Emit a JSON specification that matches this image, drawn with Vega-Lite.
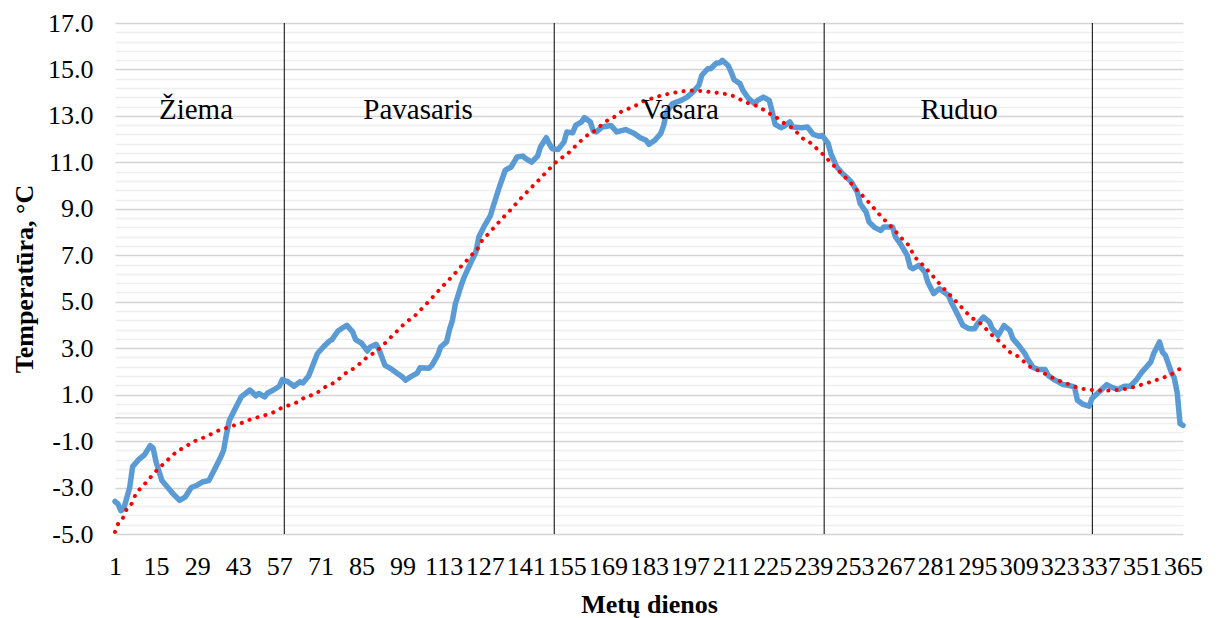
{
  "$schema": "https://vega.github.io/schema/vega-lite/v6.json",
  "width": 1068,
  "height": 511,
  "autosize": "none",
  "padding": {"left": 115, "top": 23, "right": 37, "bottom": 84},
  "background": "white",
  "config": {
    "view": {"stroke": null},
    "axisX": {
      "labelOverlap": false, "labelBound": false, "labelFlush": false,
      "ticks": false, "domain": false, "grid": false,
      "labelFont": "Liberation Serif", "labelFontSize": 26, "labelColor": "#000000", "labelPadding": 19,
      "titleFont": "Liberation Serif", "titleFontSize": 26, "titleFontWeight": "bold", "titleColor": "#000000", "titlePadding": 12
    },
    "axisY": {
      "labelOverlap": false, "labelBound": false, "labelFlush": false,
      "ticks": false, "domain": false, "grid": true, "gridWidth": 1.3,
      "labelFont": "Liberation Serif", "labelFontSize": 26, "labelColor": "#000000", "labelPadding": 22,
      "titleFont": "Liberation Serif", "titleFontSize": 26, "titleFontWeight": "bold", "titleColor": "#000000", "titlePadding": 10
    }
  },
  "datasets": {
    "temp": [
      {"day":1,"t":-3.6},{"day":2,"t":-3.7},{"day":3,"t":-4.0},{"day":4,"t":-3.9},{"day":6,"t":-3.0},{"day":7,"t":-2.1},{"day":9,"t":-1.8},{"day":11,"t":-1.6},{"day":13,"t":-1.2},{"day":14,"t":-1.3},{"day":15,"t":-1.9},{"day":17,"t":-2.7},{"day":19,"t":-3.0},{"day":21,"t":-3.3},{"day":23,"t":-3.55},{"day":25,"t":-3.4},{"day":27,"t":-3.0},{"day":29,"t":-2.9},{"day":31,"t":-2.75},{"day":33,"t":-2.7},{"day":35,"t":-2.2},{"day":37,"t":-1.7},{"day":38,"t":-1.4},{"day":39,"t":-0.7},{"day":40,"t":-0.1},{"day":42,"t":0.4},{"day":44,"t":0.9},{"day":45,"t":1.0},{"day":47,"t":1.2},{"day":49,"t":0.95},{"day":50,"t":1.05},{"day":52,"t":0.9},{"day":53,"t":1.07},{"day":55,"t":1.2},{"day":57,"t":1.36},{"day":58,"t":1.65},{"day":60,"t":1.55},{"day":62,"t":1.36},{"day":64,"t":1.55},{"day":65,"t":1.5},{"day":67,"t":1.8},{"day":69,"t":2.45},{"day":70,"t":2.77},{"day":72,"t":3.05},{"day":74,"t":3.3},{"day":75,"t":3.38},{"day":77,"t":3.74},{"day":79,"t":3.91},{"day":80,"t":3.98},{"day":82,"t":3.7},{"day":83,"t":3.37},{"day":85,"t":3.22},{"day":87,"t":2.88},{"day":88,"t":3.05},{"day":90,"t":3.17},{"day":91,"t":2.94},{"day":93,"t":2.26},{"day":95,"t":2.12},{"day":97,"t":1.93},{"day":99,"t":1.76},{"day":100,"t":1.62},{"day":102,"t":1.79},{"day":104,"t":1.93},{"day":105,"t":2.16},{"day":108,"t":2.14},{"day":109,"t":2.26},{"day":111,"t":2.7},{"day":112,"t":3.05},{"day":114,"t":3.27},{"day":115,"t":3.8},{"day":116,"t":4.2},{"day":117,"t":4.9},{"day":119,"t":5.71},{"day":120,"t":6.06},{"day":122,"t":6.61},{"day":124,"t":7.14},{"day":125,"t":7.79},{"day":127,"t":8.29},{"day":129,"t":8.72},{"day":130,"t":9.15},{"day":132,"t":9.94},{"day":134,"t":10.66},{"day":136,"t":10.8},{"day":138,"t":11.23},{"day":140,"t":11.27},{"day":141,"t":11.16},{"day":143,"t":11.01},{"day":145,"t":11.26},{"day":146,"t":11.66},{"day":148,"t":12.06},{"day":149,"t":11.8},{"day":150,"t":11.59},{"day":152,"t":11.55},{"day":154,"t":11.87},{"day":155,"t":12.31},{"day":157,"t":12.27},{"day":158,"t":12.59},{"day":160,"t":12.74},{"day":161,"t":12.93},{"day":163,"t":12.74},{"day":164,"t":12.35},{"day":165,"t":12.31},{"day":167,"t":12.52},{"day":170,"t":12.59},{"day":172,"t":12.31},{"day":175,"t":12.41},{"day":178,"t":12.24},{"day":180,"t":12.06},{"day":182,"t":11.95},{"day":183,"t":11.78},{"day":185,"t":11.95},{"day":187,"t":12.24},{"day":188,"t":12.59},{"day":189,"t":13.17},{"day":191,"t":13.53},{"day":194,"t":13.67},{"day":196,"t":13.81},{"day":198,"t":14.03},{"day":200,"t":14.32},{"day":201,"t":14.75},{"day":203,"t":15.03},{"day":204,"t":15.03},{"day":206,"t":15.28},{"day":207,"t":15.28},{"day":208,"t":15.39},{"day":210,"t":15.17},{"day":211,"t":14.89},{"day":212,"t":14.56},{"day":214,"t":14.39},{"day":215,"t":14.1},{"day":217,"t":13.74},{"day":219,"t":13.53},{"day":220,"t":13.67},{"day":222,"t":13.81},{"day":224,"t":13.67},{"day":225,"t":13.17},{"day":226,"t":12.64},{"day":228,"t":12.49},{"day":229,"t":12.55},{"day":231,"t":12.74},{"day":232,"t":12.52},{"day":235,"t":12.49},{"day":237,"t":12.52},{"day":239,"t":12.2},{"day":241,"t":12.12},{"day":242,"t":12.16},{"day":244,"t":11.83},{"day":245,"t":11.38},{"day":247,"t":10.8},{"day":249,"t":10.51},{"day":250,"t":10.4},{"day":252,"t":10.15},{"day":254,"t":9.72},{"day":255,"t":9.22},{"day":257,"t":8.86},{"day":258,"t":8.43},{"day":260,"t":8.19},{"day":262,"t":8.07},{"day":263,"t":8.22},{"day":266,"t":8.22},{"day":267,"t":7.79},{"day":269,"t":7.43},{"day":271,"t":7.0},{"day":272,"t":6.49},{"day":273,"t":6.42},{"day":275,"t":6.57},{"day":277,"t":6.28},{"day":278,"t":5.85},{"day":280,"t":5.35},{"day":282,"t":5.56},{"day":285,"t":5.28},{"day":286,"t":4.99},{"day":288,"t":4.49},{"day":290,"t":3.98},{"day":292,"t":3.84},{"day":294,"t":3.84},{"day":295,"t":4.06},{"day":297,"t":4.34},{"day":299,"t":4.13},{"day":300,"t":3.84},{"day":302,"t":3.55},{"day":304,"t":3.97},{"day":306,"t":3.77},{"day":307,"t":3.41},{"day":309,"t":3.12},{"day":311,"t":2.79},{"day":312,"t":2.55},{"day":314,"t":2.16},{"day":316,"t":2.08},{"day":318,"t":2.08},{"day":319,"t":1.83},{"day":321,"t":1.65},{"day":322,"t":1.59},{"day":324,"t":1.44},{"day":326,"t":1.4},{"day":328,"t":1.33},{"day":329,"t":0.76},{"day":331,"t":0.58},{"day":333,"t":0.5},{"day":334,"t":0.83},{"day":337,"t":1.19},{"day":339,"t":1.43},{"day":341,"t":1.3},{"day":343,"t":1.22},{"day":345,"t":1.36},{"day":347,"t":1.36},{"day":349,"t":1.62},{"day":351,"t":1.97},{"day":354,"t":2.4},{"day":355,"t":2.77},{"day":357,"t":3.27},{"day":358,"t":2.83},{"day":359,"t":2.69},{"day":361,"t":1.97},{"day":362,"t":1.73},{"day":363,"t":1.11},{"day":364,"t":-0.25},{"day":365,"t":-0.32}
    ],
    "trend": [
      {"day":1,"t":-4.91},{"day":2,"t":-4.58},{"day":4,"t":-4.24},{"day":5,"t":-3.92},{"day":7,"t":-3.62},{"day":8,"t":-3.3},{"day":10,"t":-3.0},{"day":12,"t":-2.72},{"day":14,"t":-2.43},{"day":16,"t":-2.16},{"day":18,"t":-1.93},{"day":20,"t":-1.69},{"day":22,"t":-1.46},{"day":25,"t":-1.25},{"day":27,"t":-1.07},{"day":30,"t":-0.91},{"day":33,"t":-0.75},{"day":35,"t":-0.61},{"day":38,"t":-0.48},{"day":41,"t":-0.35},{"day":44,"t":-0.23},{"day":46,"t":-0.12},{"day":49,"t":0.0},{"day":52,"t":0.11},{"day":55,"t":0.24},{"day":57,"t":0.38},{"day":60,"t":0.53},{"day":63,"t":0.67},{"day":65,"t":0.83},{"day":68,"t":0.98},{"day":71,"t":1.17},{"day":73,"t":1.36},{"day":76,"t":1.54},{"day":78,"t":1.75},{"day":80,"t":1.96},{"day":83,"t":2.18},{"day":85,"t":2.4},{"day":87,"t":2.62},{"day":90,"t":2.86},{"day":92,"t":3.09},{"day":94,"t":3.34},{"day":96,"t":3.6},{"day":98,"t":3.84},{"day":100,"t":4.1},{"day":103,"t":4.37},{"day":105,"t":4.63},{"day":107,"t":4.89},{"day":113,"t":5.71},{"day":115,"t":5.97},{"day":117,"t":6.24},{"day":119,"t":6.53},{"day":121,"t":6.79},{"day":123,"t":7.07},{"day":125,"t":7.36},{"day":126,"t":7.61},{"day":128,"t":7.89},{"day":130,"t":8.17},{"day":132,"t":8.45},{"day":134,"t":8.72},{"day":136,"t":8.98},{"day":138,"t":9.27},{"day":140,"t":9.54},{"day":142,"t":9.8},{"day":144,"t":10.06},{"day":146,"t":10.31},{"day":148,"t":10.58},{"day":150,"t":10.84},{"day":152,"t":11.09},{"day":155,"t":11.34},{"day":157,"t":11.59},{"day":159,"t":11.83},{"day":161,"t":12.08},{"day":164,"t":12.31},{"day":166,"t":12.52},{"day":168,"t":12.74},{"day":171,"t":12.94},{"day":173,"t":13.14},{"day":176,"t":13.31},{"day":179,"t":13.48},{"day":181,"t":13.63},{"day":184,"t":13.75},{"day":187,"t":13.87},{"day":190,"t":13.96},{"day":193,"t":14.03},{"day":195,"t":14.07},{"day":198,"t":14.09},{"day":201,"t":14.07},{"day":204,"t":14.03},{"day":207,"t":13.98},{"day":210,"t":13.92},{"day":213,"t":13.79},{"day":215,"t":13.64},{"day":218,"t":13.5},{"day":221,"t":13.36},{"day":223,"t":13.17},{"day":226,"t":12.98},{"day":228,"t":12.77},{"day":231,"t":12.55},{"day":233,"t":12.34},{"day":235,"t":12.07},{"day":238,"t":11.84},{"day":240,"t":11.61},{"day":242,"t":11.38},{"day":244,"t":11.12},{"day":246,"t":10.86},{"day":248,"t":10.6},{"day":250,"t":10.34},{"day":252,"t":10.08},{"day":254,"t":9.79},{"day":256,"t":9.54},{"day":258,"t":9.27},{"day":260,"t":8.98},{"day":262,"t":8.69},{"day":264,"t":8.43},{"day":266,"t":8.17},{"day":268,"t":7.89},{"day":270,"t":7.61},{"day":272,"t":7.33},{"day":273,"t":7.04},{"day":275,"t":6.75},{"day":277,"t":6.49},{"day":279,"t":6.21},{"day":281,"t":5.92},{"day":283,"t":5.63},{"day":285,"t":5.37},{"day":287,"t":5.1},{"day":289,"t":4.83},{"day":291,"t":4.56},{"day":293,"t":4.32},{"day":296,"t":4.06},{"day":298,"t":3.81},{"day":300,"t":3.55},{"day":302,"t":3.34},{"day":304,"t":3.08},{"day":306,"t":2.83},{"day":309,"t":2.62},{"day":311,"t":2.4},{"day":313,"t":2.19},{"day":316,"t":2.02},{"day":319,"t":1.83},{"day":321,"t":1.69},{"day":324,"t":1.54},{"day":327,"t":1.4},{"day":329,"t":1.3},{"day":332,"t":1.23},{"day":335,"t":1.19},{"day":338,"t":1.17},{"day":341,"t":1.19},{"day":344,"t":1.22},{"day":347,"t":1.29},{"day":349,"t":1.36},{"day":352,"t":1.47},{"day":355,"t":1.59},{"day":358,"t":1.72},{"day":361,"t":1.87},{"day":363,"t":2.05},{"day":365,"t":2.15}
    ],
    "bounds": [{"day":58.7},{"day":150.7},{"day":242.7},{"day":334.1}],
    "seasons": [
      {"day":28.6,"t":12.85,"label":"Žiema"},
      {"day":104.3,"t":12.85,"label":"Pavasaris"},
      {"day":193.6,"t":12.85,"label":"Vasara"},
      {"day":288.7,"t":12.85,"label":"Ruduo"}
    ],
    "zero": [{"t":0}]
  },
  "layer": [
    {
      "data": {"name": "zero"},
      "mark": {"type": "rule", "color": "#d0d0d0", "strokeWidth": 1.5},
      "encoding": {
        "y": {
          "field": "t", "type": "quantitative", "title": "Temperatūra, °C",
          "scale": {"domain": [-5, 17], "nice": false, "zero": false},
          "axis": {
            "values": [-5,-4.6,-4.2,-3.8,-3.4,-3.0,-2.6,-2.2,-1.8,-1.4,-1.0,-0.6,-0.2,0.2,0.6,1.0,1.4,1.8,2.2,2.6,3.0,3.4,3.8,4.2,4.6,5.0,5.4,5.8,6.2,6.6,7.0,7.4,7.8,8.2,8.6,9.0,9.4,9.8,10.2,10.6,11.0,11.4,11.8,12.2,12.6,13.0,13.4,13.8,14.2,14.6,15.0,15.4,15.8,16.2,16.6,17.0],
            "labelExpr": "abs((datum.value + 5) / 2 - round((datum.value + 5) / 2)) < 0.01 ? (datum.value < 0 ? '-' : '') + format(abs(datum.value), '.1f') : ''",
            "gridColor": {"condition": {"test": "abs((datum.value + 5) / 2 - round((datum.value + 5) / 2)) < 0.01", "value": "#d4d4d4"}, "value": "#efefef"}
          }
        }
      }
    },
    {
      "data": {"name": "bounds"},
      "mark": {"type": "rule", "color": "#000000", "strokeWidth": 1},
      "encoding": {
        "x": {
          "field": "day", "type": "quantitative", "title": "Metų dienos",
          "scale": {"domain": [1, 365], "nice": false, "zero": false},
          "axis": {"values": [1,15,29,43,57,71,85,99,113,127,141,155,169,183,197,211,225,239,253,267,281,295,309,323,337,351,365]}
        }
      }
    },
    {
      "data": {"name": "temp"},
      "mark": {"type": "line", "color": "#5b9bd5", "strokeWidth": 5.5, "strokeCap": "round", "strokeJoin": "round"},
      "encoding": {
        "x": {"field": "day", "type": "quantitative", "title": "Metų dienos", "scale": {"domain": [1, 365], "nice": false, "zero": false},
          "axis": {"values": [1,15,29,43,57,71,85,99,113,127,141,155,169,183,197,211,225,239,253,267,281,295,309,323,337,351,365]}},
        "y": {"field": "t", "type": "quantitative", "title": "Temperatūra, °C", "scale": {"domain": [-5, 17], "nice": false, "zero": false},
          "axis": {
            "values": [-5,-4.6,-4.2,-3.8,-3.4,-3.0,-2.6,-2.2,-1.8,-1.4,-1.0,-0.6,-0.2,0.2,0.6,1.0,1.4,1.8,2.2,2.6,3.0,3.4,3.8,4.2,4.6,5.0,5.4,5.8,6.2,6.6,7.0,7.4,7.8,8.2,8.6,9.0,9.4,9.8,10.2,10.6,11.0,11.4,11.8,12.2,12.6,13.0,13.4,13.8,14.2,14.6,15.0,15.4,15.8,16.2,16.6,17.0],
            "labelExpr": "abs((datum.value + 5) / 2 - round((datum.value + 5) / 2)) < 0.01 ? (datum.value < 0 ? '-' : '') + format(abs(datum.value), '.1f') : ''",
            "gridColor": {"condition": {"test": "abs((datum.value + 5) / 2 - round((datum.value + 5) / 2)) < 0.01", "value": "#d4d4d4"}, "value": "#efefef"}
          }}
      }
    },
    {
      "data": {"name": "trend"},
      "mark": {"type": "line", "color": "#ff0000", "strokeWidth": 4, "strokeCap": "round", "strokeDash": [0.1, 8.2], "interpolate": "monotone"},
      "encoding": {
        "x": {"field": "day", "type": "quantitative", "title": "Metų dienos", "scale": {"domain": [1, 365], "nice": false, "zero": false},
          "axis": {"values": [1,15,29,43,57,71,85,99,113,127,141,155,169,183,197,211,225,239,253,267,281,295,309,323,337,351,365]}},
        "y": {"field": "t", "type": "quantitative", "title": "Temperatūra, °C", "scale": {"domain": [-5, 17], "nice": false, "zero": false},
          "axis": {
            "values": [-5,-4.6,-4.2,-3.8,-3.4,-3.0,-2.6,-2.2,-1.8,-1.4,-1.0,-0.6,-0.2,0.2,0.6,1.0,1.4,1.8,2.2,2.6,3.0,3.4,3.8,4.2,4.6,5.0,5.4,5.8,6.2,6.6,7.0,7.4,7.8,8.2,8.6,9.0,9.4,9.8,10.2,10.6,11.0,11.4,11.8,12.2,12.6,13.0,13.4,13.8,14.2,14.6,15.0,15.4,15.8,16.2,16.6,17.0],
            "labelExpr": "abs((datum.value + 5) / 2 - round((datum.value + 5) / 2)) < 0.01 ? (datum.value < 0 ? '-' : '') + format(abs(datum.value), '.1f') : ''",
            "gridColor": {"condition": {"test": "abs((datum.value + 5) / 2 - round((datum.value + 5) / 2)) < 0.01", "value": "#d4d4d4"}, "value": "#efefef"}
          }}
      }
    },
    {
      "data": {"name": "seasons"},
      "mark": {"type": "text", "font": "Liberation Serif", "fontSize": 29, "align": "center", "baseline": "alphabetic", "color": "#000000"},
      "encoding": {
        "x": {"field": "day", "type": "quantitative", "title": "Metų dienos", "scale": {"domain": [1, 365], "nice": false, "zero": false},
          "axis": {"values": [1,15,29,43,57,71,85,99,113,127,141,155,169,183,197,211,225,239,253,267,281,295,309,323,337,351,365]}},
        "y": {"field": "t", "type": "quantitative", "title": "Temperatūra, °C", "scale": {"domain": [-5, 17], "nice": false, "zero": false},
          "axis": {
            "values": [-5,-4.6,-4.2,-3.8,-3.4,-3.0,-2.6,-2.2,-1.8,-1.4,-1.0,-0.6,-0.2,0.2,0.6,1.0,1.4,1.8,2.2,2.6,3.0,3.4,3.8,4.2,4.6,5.0,5.4,5.8,6.2,6.6,7.0,7.4,7.8,8.2,8.6,9.0,9.4,9.8,10.2,10.6,11.0,11.4,11.8,12.2,12.6,13.0,13.4,13.8,14.2,14.6,15.0,15.4,15.8,16.2,16.6,17.0],
            "labelExpr": "abs((datum.value + 5) / 2 - round((datum.value + 5) / 2)) < 0.01 ? (datum.value < 0 ? '-' : '') + format(abs(datum.value), '.1f') : ''",
            "gridColor": {"condition": {"test": "abs((datum.value + 5) / 2 - round((datum.value + 5) / 2)) < 0.01", "value": "#d4d4d4"}, "value": "#efefef"}
          }},
        "text": {"field": "label"}
      }
    }
  ]
}
